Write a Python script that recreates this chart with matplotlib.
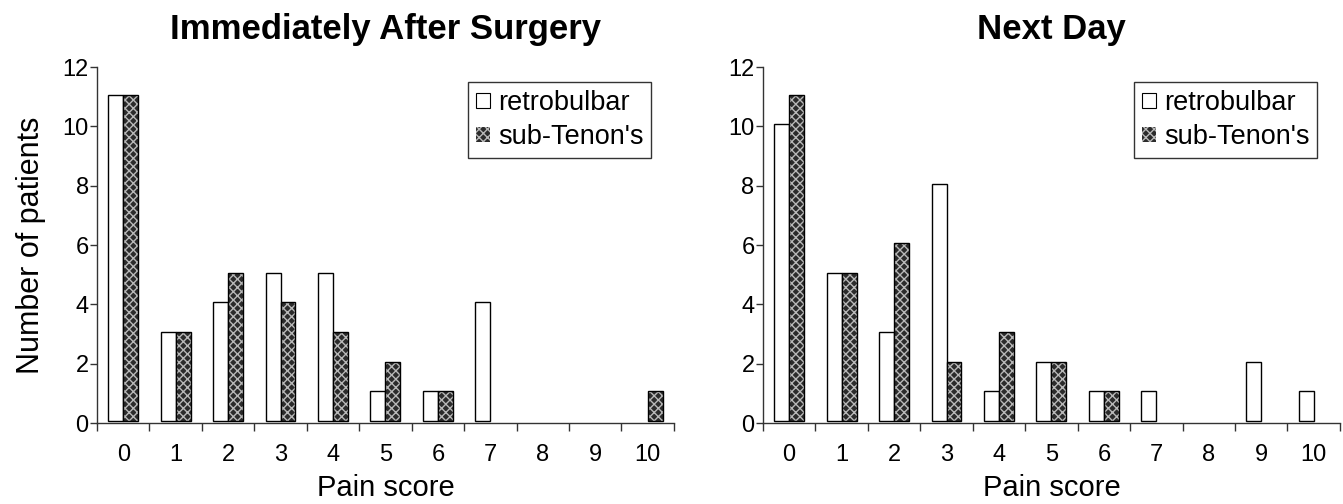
import numpy as np
import matplotlib
matplotlib.use("Agg")
import matplotlib.pyplot as plt
from matplotlib.patches import Patch

plt.rcParams['font.family'] = ['Liberation Sans', 'DejaVu Sans']

scores = list(range(11))
score_labels = [str(s) for s in scores]
titles = ["Immediately After Surgery", "Next Day"]
series_names = ["retrobulbar", "sub-Tenon's"]

after_retro = [11, 3, 4, 5, 5, 1, 1, 4, 0, 0, 0]
after_subtenon = [11, 3, 5, 4, 3, 2, 1, 0, 0, 0, 1]
nextday_retro = [10, 5, 3, 8, 1, 2, 1, 1, 0, 2, 1]
nextday_subtenon = [11, 5, 6, 2, 3, 2, 1, 0, 0, 0, 0]

panels = [(after_retro, after_subtenon), (nextday_retro, nextday_subtenon)]

fig = plt.figure(figsize=(13.43, 5.04), dpi=100)
ax_rects = [[0.0722, 0.1607, 0.4296, 0.7063], [0.5681, 0.1607, 0.4296, 0.7063]]

bw = 0.285
base = 0.07
hatch_face = '#2b2b2b'
hatch_col = '#b8b8b8'

for i, (retro, sub) in enumerate(panels):
    ax = fig.add_axes(ax_rects[i])
    x = np.arange(len(scores))
    retro = np.array(retro, dtype=float)
    sub = np.array(sub, dtype=float)
    lw_r = [1.0 if v > 0 else 0 for v in retro]
    lw_s = [1.0 if v > 0 else 0 for v in sub]
    ax.bar(x - bw / 2, retro, bw, bottom=base, facecolor='white',
           edgecolor='black', linewidth=lw_r, zorder=3)
    ax.bar(x + bw / 2, sub, bw, bottom=base, facecolor=hatch_face,
           edgecolor=hatch_col, hatch='xxxx', linewidth=0, zorder=3)
    ax.bar(x + bw / 2, sub, bw, bottom=base, facecolor='none',
           edgecolor='black', linewidth=lw_s, zorder=4)

    ax.set_xlim(-0.5, len(scores) - 0.5)
    ax.set_ylim(0, 12)
    ax.set_yticks(np.arange(0, 13, 2))
    ax.set_xticks(np.arange(len(scores) + 1) - 0.5)
    ax.set_xticklabels([])
    ax.set_xticks(x, minor=True)
    ax.set_xticklabels(score_labels, minor=True)
    ax.tick_params(axis='x', which='major', length=6, width=1, direction='out', color='#333333')
    ax.tick_params(axis='x', which='minor', length=0, pad=15, labelsize=17)
    ax.tick_params(axis='y', length=5, width=1, direction='out', pad=1, labelsize=17, color='#333333')
    for s in ['top', 'right']:
        ax.spines[s].set_visible(False)
    for s in ['left', 'bottom']:
        ax.spines[s].set_color('#333333')
        ax.spines[s].set_linewidth(1.0)
    ax.set_xlabel("Pain score", fontsize=21, labelpad=6)
    ax.set_title(titles[i], fontsize=25, fontweight='bold', pad=20)
    if i == 0:
        ax.set_ylabel("Number of patients", fontsize=22, labelpad=12)

    handles = [Patch(facecolor='white', edgecolor='black', linewidth=0.8),
               Patch(facecolor=hatch_face, edgecolor=hatch_col, hatch='xxxx', linewidth=0)]
    leg = ax.legend(handles, series_names, loc='upper right', bbox_to_anchor=(0.961, 0.958),
                    fontsize=19.5, frameon=True, fancybox=False, edgecolor='black',
                    handlelength=0.5, handleheight=0.5, handletextpad=0.3,
                    borderpad=0.3, labelspacing=0.3, borderaxespad=0)
    leg.get_frame().set_linewidth(1.0)

fig.savefig("out.png", dpi=100)
